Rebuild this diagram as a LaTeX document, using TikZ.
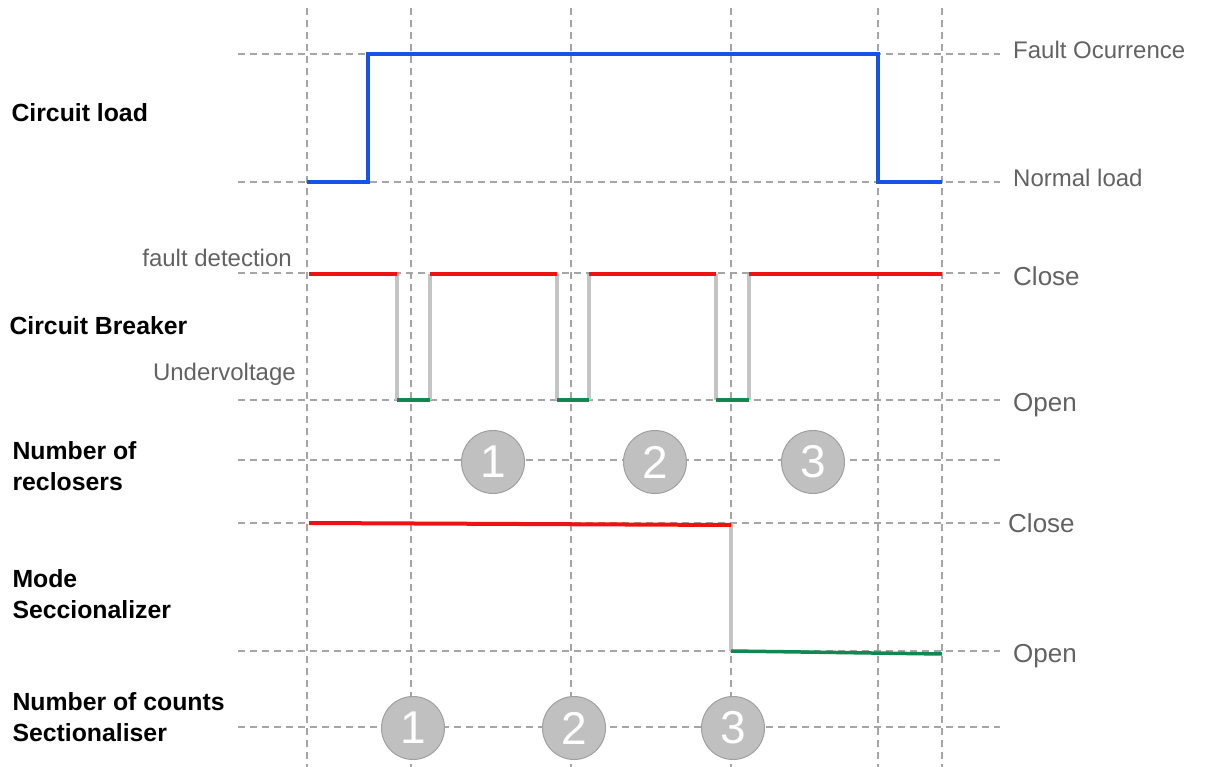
\documentclass[tikz,border=0pt]{standalone}
\usepackage{fontspec}
\setmainfont{Liberation Sans}
\usepackage{tikz}
\usetikzlibrary{positioning}
\usepackage{xcolor}
\definecolor{gridgray}{RGB}{165,165,165}
\definecolor{loadblue}{RGB}{24,82,232}
\definecolor{closered}{RGB}{238,18,18}
\definecolor{opengreen}{RGB}{18,135,82}
\definecolor{edgegray}{RGB}{196,196,196}
\definecolor{textgray}{RGB}{98,98,98}
\definecolor{coingray}{RGB}{192,192,192}
\definecolor{coinedge}{RGB}{160,160,160}
\tikzset{
  gridline/.style={gridgray, line width=1.3pt, dash pattern=on 7pt off 5pt},
  loadline/.style={loadblue, line width=4pt, line join=miter},
  closeline/.style={closered, line width=4pt},
  openline/.style={opengreen, line width=3.5pt},
  edgeline/.style={edgegray, line width=3.5pt},
  coin/.style={circle, fill=coingray, draw=coinedge, line width=1pt, minimum size=63pt,
               inner sep=0pt, text=white, font=\fontsize{46}{46}\selectfont},
  rowlabel/.style={anchor=west, align=left, font=\fontsize{24.8}{31}\selectfont\bfseries},
  statelabel/.style={textgray, inner sep=0pt, font=\fontsize{24}{28}\selectfont},
  biglabel/.style={statelabel, font=\fontsize{26}{30}\selectfont},
}
\begin{document}
\begin{tikzpicture}[x=1pt, y=-1pt]
\useasboundingbox (0,0) rectangle (1205,767);
% grid
\foreach \x in {307,411,571,731,878,942}
  \draw[gridline] (\x,8) -- (\x,767);
\foreach \y in {54,182,273,400,460,523,651,727}
  \draw[gridline] (238,\y) -- (1000,\y);
% circuit load
\draw[loadline] (307,182) -- (368,182) -- (368,54) -- (878,54) -- (878,182) -- (942,182);
% circuit breaker
\foreach \x in {397,430,557,589,716,749}
  \draw[edgeline] (\x,274) -- (\x,400);
\foreach \a/\b in {309/397, 430/557, 589/716, 749/942}
  \draw[closeline] (\a,274) -- (\b,274);
\foreach \a/\b in {397/430, 557/589, 716/749}
  \draw[openline] (\a,400) -- (\b,400);
% sectionalizer mode
\draw[edgeline] (731,523) -- (731,651);
\draw[closeline] (309,523) -- (731,525);
\draw[openline] (731,651) -- (942,654);
% counters
\foreach \n/\x in {1/493, 2/655, 3/813}
  \node[coin] (rec\n) at (\x,462) {\n};
\foreach \n/\x in {1/413, 2/574, 3/733}
  \node[coin] (cnt\n) at (\x,728) {\n};
% row labels
\node[rowlabel] (load) at (8,113) {Circuit load};
\node[rowlabel] (breaker) at (6,326) {Circuit Breaker};
\node[rowlabel] (reclosers) at (9,466) {Number of\\reclosers};
\node[rowlabel] (mode) at (9,594) {Mode\\Seccionalizer};
\node[rowlabel] (counts) at (9,717) {Number of counts\\Sectionaliser};
% state labels
\coordinate (faultend) at (1000,54);
\coordinate (normalend) at (1000,182);
\coordinate (cbclose) at (1000,273);
\coordinate (cbopen) at (1000,400);
\coordinate (mclose) at (1000,523);
\coordinate (mopen) at (1000,651);
\node[statelabel, right=13pt of faultend, yshift=4pt] (fault) {Fault Ocurrence};
\node[statelabel, right=13pt of normalend, yshift=4pt] (normal) {Normal load};
\node[biglabel, right=13pt of cbclose, yshift=-3pt] (close1) {Close};
\node[biglabel, right=13pt of cbopen, yshift=-5pt] (open1) {Open};
\node[biglabel, right=8pt of mclose] (close2) {Close};
\node[biglabel, right=13pt of mopen, yshift=-5pt] (open2) {Open};
\node[statelabel, anchor=east] (detect) at (292,258) {fault detection};
\node[statelabel, anchor=east] (under) at (296,374) {Undervoltage};
\end{tikzpicture}
\end{document}
